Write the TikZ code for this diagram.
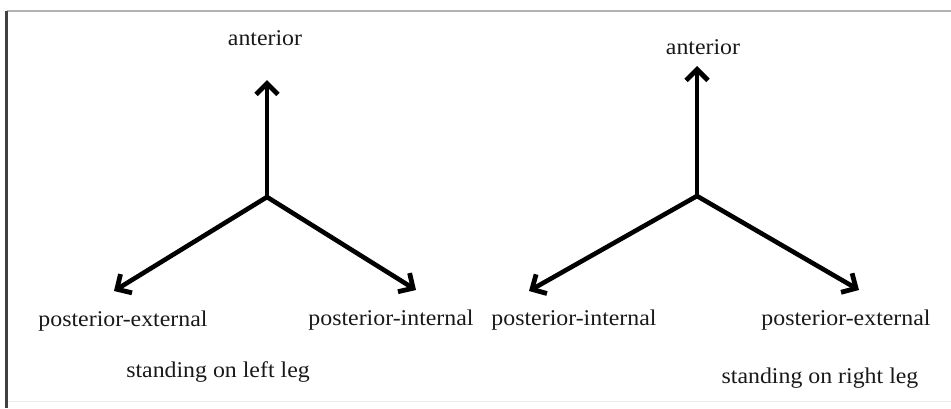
\documentclass[tikz,border=0pt]{standalone}
\usepackage{fontspec}
\setmainfont{Liberation Serif}
\usetikzlibrary{arrows.meta}
\begin{document}
\begin{tikzpicture}[x=1pt,y=-1pt,
  lbl/.style={font=\fontsize{22.5}{24}\selectfont, text=black!90, inner sep=0pt, anchor=base, xscale=1.06},
  axis/.style={line width=4.6pt, -{Straight Barb[length=11pt,width=22pt,line width=4.8pt]}}]
\useasboundingbox (0,0) rectangle (951,408);
\draw[gray!60, line width=1.5pt] (7,11) -- (951,11);
\draw[black!75, line width=3pt] (6,11) -- (6,408);
\draw[gray!15, line width=1pt] (8,401) -- (951,401);
% left diagram
\coordinate (c1) at (267,197);
\coordinate (u1) at (267,80);
\coordinate (l1) at (114,291);
\coordinate (r1) at (416,290);
\draw[axis] (c1) -- (u1);
\draw[axis] (c1) -- (l1);
\draw[axis] (c1) -- (r1);
\node[lbl] (a1) at (265,45) {anterior};
\node[lbl] (pe1) at (123,326) {posterior-external};
\node[lbl] (pi1) at (391,325) {posterior-internal};
\node[lbl] (s1) at (218,377) {standing on left leg};
% right diagram
\coordinate (c2) at (697,196);
\coordinate (u2) at (697,66);
\coordinate (l2) at (529,291);
\coordinate (r2) at (859,290);
\draw[axis] (c2) -- (u2);
\draw[axis] (c2) -- (l2);
\draw[axis] (c2) -- (r2);
\node[lbl] (a2) at (703,54) {anterior};
\node[lbl] (pi2) at (574,325) {posterior-internal};
\node[lbl] (pe2) at (846,325) {posterior-external};
\node[lbl] (s2) at (820,383) {standing on right leg};
\end{tikzpicture}
\end{document}
